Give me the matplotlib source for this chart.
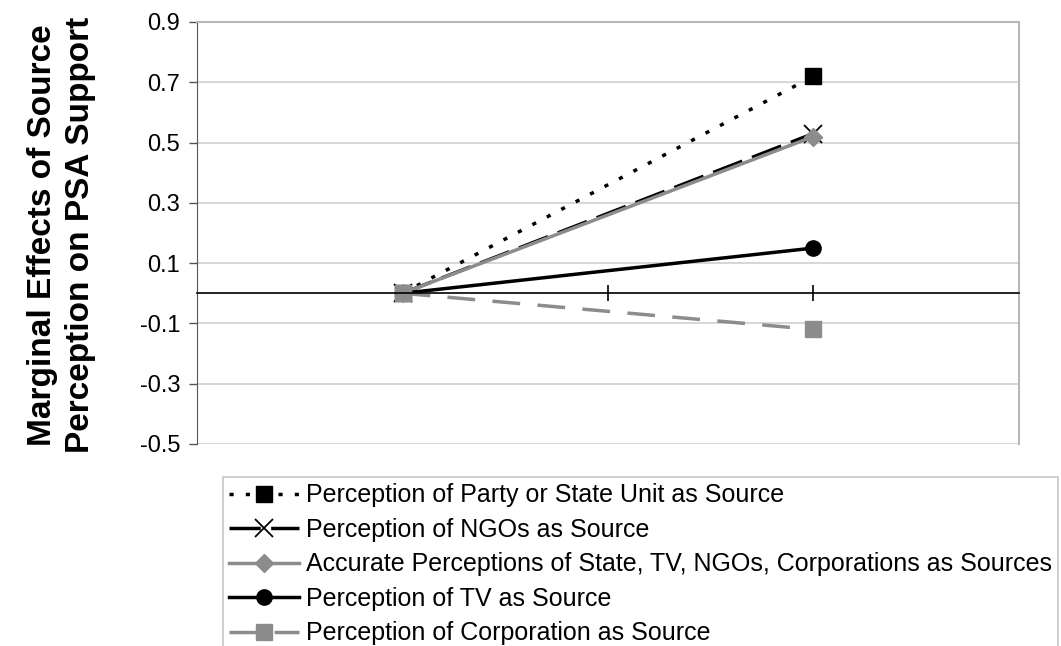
import numpy as np
import matplotlib
matplotlib.use("Agg")
import matplotlib.pyplot as plt

plt.rcParams['font.family'] = ['Liberation Sans', 'DejaVu Sans']

# positions of the two points on the (hidden) x scale 0..4
x_pos = [1, 3]

series_labels = ['Perception of Party or State Unit as Source',
                 'Perception of NGOs as Source',
                 'Accurate Perceptions of State, TV, NGOs, Corporations as Sources',
                 'Perception of TV as Source',
                 'Perception of Corporation as Source']
party = [0.0, 0.72]
ngos = [0.0, 0.53]
accurate = [0.0, 0.52]
tv = [0.0, 0.15]
corporation = [0.0, -0.12]

y_ticks = [-0.5, -0.3, -0.1, 0.1, 0.3, 0.5, 0.7, 0.9]
y_tick_labels = ['-0.5', '-0.3', '-0.1', '0.1', '0.3', '0.5', '0.7', '0.9']

fig = plt.figure(figsize=(10.61, 6.46), dpi=100)
ax = fig.add_axes([0.1857, 0.3127, 0.9604 - 0.1857, 0.966 - 0.3127])

gray = '#8c8c8c'
ax.plot(x_pos, party, color='black', linestyle=(0, (1.2, 3.5)), linewidth=2.5,
        marker='s', markersize=11, label=series_labels[0])
ax.plot(x_pos, ngos, color='black', linestyle=(0, (9, 3)), linewidth=2.5,
        marker='x', markersize=13, markeredgewidth=1.3, label=series_labels[1])
ax.plot(x_pos, accurate, color=gray, linestyle='-', linewidth=2.5,
        marker='D', markersize=9, label=series_labels[2])
ax.plot(x_pos, tv, color='black', linestyle='-', linewidth=2.5,
        marker='o', markersize=11, label=series_labels[3])
ax.plot(x_pos, corporation, color=gray, linestyle=(0, (8, 5)), linewidth=2.5,
        marker='s', markersize=11, label=series_labels[4])

ax.set_xlim(0, 4)
ax.set_ylim(-0.5, 0.9)
ax.set_yticks(y_ticks)
ax.set_yticklabels(y_tick_labels, fontsize=17)
ax.yaxis.grid(True, color='#d0d0d0', linewidth=1.2)
ax.set_axisbelow(True)

# x axis drawn at zero with crossing tick marks, no labels
ax.spines['bottom'].set_position(('data', 0))
ax.spines['bottom'].set_color('black')
ax.spines['bottom'].set_linewidth(1.2)
ax.set_xticks([1, 2, 3])
ax.set_xticklabels([])
ax.tick_params(axis='x', direction='inout', length=11, width=1.2, color='black')
ax.tick_params(axis='y', direction='out', length=6, width=1, color='#555555', pad=6)
ax.spines['left'].set_color('#555555')
ax.spines['top'].set_color('#b8b8b8')
ax.spines['right'].set_color('#b8b8b8')
ax.spines['top'].set_linewidth(1.5)
ax.spines['right'].set_linewidth(1.5)

fig.text(0.058, 0.636, 'Marginal Effects of Source\nPerception on PSA Support',
         rotation=90, fontsize=24, fontweight='bold', ha='center', va='center',
         linespacing=1.3)

leg = fig.legend(loc='upper left', bbox_to_anchor=(0.2102, 0.2616),
                 fontsize=18, frameon=True, fancybox=False, edgecolor='#b8b8b8',
                 handlelength=2.8, handletextpad=0.25, labelspacing=0.42,
                 borderpad=0.25, borderaxespad=0)
leg.get_frame().set_linewidth(1.2)

fig.savefig('out.png', dpi=100)
